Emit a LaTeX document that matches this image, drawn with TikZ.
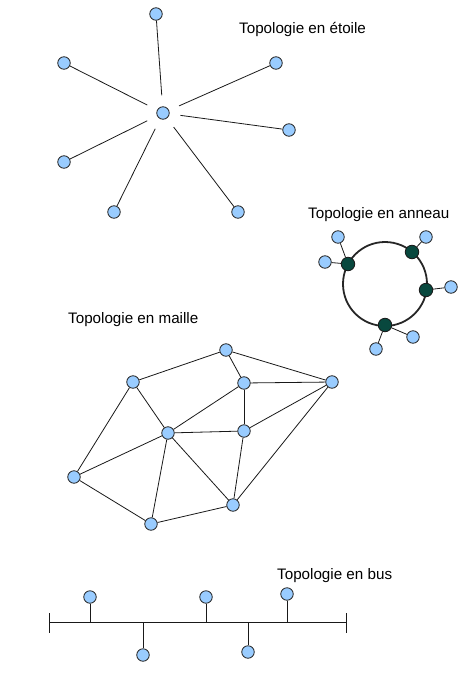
\documentclass[tikz,border=0pt]{standalone}
\usepackage{fontspec}
\setmainfont{Liberation Sans}
\definecolor{bleuclair}{RGB}{153,204,255}
\definecolor{vertsombre}{RGB}{8,72,62}

\tikzset{
    poste/.style={circle, draw=black!85, fill=bleuclair, inner sep=0pt, minimum size=12.5pt, line width=0.8pt},
    relais/.style={circle, draw=black!90, fill=vertsombre, inner sep=0pt, minimum size=13.5pt, line width=0.8pt},
    titre/.style={anchor=base west, inner sep=0pt, font=\fontsize{15.2}{18}\selectfont},
    lien/.style={line width=0.8pt, draw=black!90}
}

\begin{document}
\begin{tikzpicture}[x=1pt, y=-1pt]
            \useasboundingbox (0,0) rectangle (466,680);

            % etoile
            \node [titre] (tetoile) at (239,33) {Topologie en étoile};
            \node [poste] (centre) at (163,113) {};
            \foreach \nom/\x/\y in {e1/156/14, e2/64/63, e3/276/63, e4/289/130, e5/64/162, e6/114/212, e7/238/212}
            {
                \node [poste] (\nom) at (\x,\y) {};
                \draw [lien, shorten >=11pt] (\nom) -- (centre);
            }

            % anneau
            \node [titre] (tanneau) at (308,218) {Topologie en anneau};
            \coordinate (milieu) at (385,284);
            \draw [line width=1.8pt, draw=black!85] (milieu) circle [radius=42pt];
            \foreach \nom/\x/\y in {r1/348/264, r2/412/252, r3/426/290, r4/385/325}
            {
                \node [relais] (\nom) at (\x,\y) {};
            }
            \foreach \nom/\x/\y/\cible in {a1/338/237/r1, a2/325/262/r1, a3/426/237/r2, a4/451/287/r3, a5/413/337/r4, a6/376/349/r4}
            {
                \node [poste] (\nom) at (\x,\y) {};
                \draw [lien] (\nom) -- (\cible);
            }

            % maille
            \node [titre] (tmaille) at (68,323) {Topologie en maille};
            \foreach \nom/\x/\y in {m1/226/350, m2/133/382, m3/244/383, m4/332/382, m5/168/433, m6/244/431, m7/74/477, m8/151/524, m9/233/505}
            {
                \node [poste] (\nom) at (\x,\y) {};
            }
            \foreach \a/\b in {m2/m1, m1/m3, m1/m4, m3/m4, m2/m7, m2/m5, m5/m3, m3/m6, m5/m6, m6/m4, m7/m5, m7/m8, m5/m8, m5/m9, m6/m9, m4/m9, m8/m9}
            {
                \draw [lien] (\a) -- (\b);
            }

            % bus
            \node [titre] (tbus) at (277,579) {Topologie en bus};
            \coordinate (busg) at (49,622);
            \coordinate (busd) at (346,622);
            \draw [lien] (busg) -- (busd);
            \draw [lien] ([yshift=9pt]busg) -- ([yshift=-11pt]busg);
            \draw [lien] ([yshift=9pt]busd) -- ([yshift=-11pt]busd);
            \foreach \nom/\x/\y in {b1/90/597, b2/206/597, b3/287/594, b4/143/655, b5/248/652}
            {
                \node [poste] (\nom) at (\x,\y) {};
                \draw [lien] (\nom) -- (\nom |- busg);
            }

\end{tikzpicture}
\end{document}
